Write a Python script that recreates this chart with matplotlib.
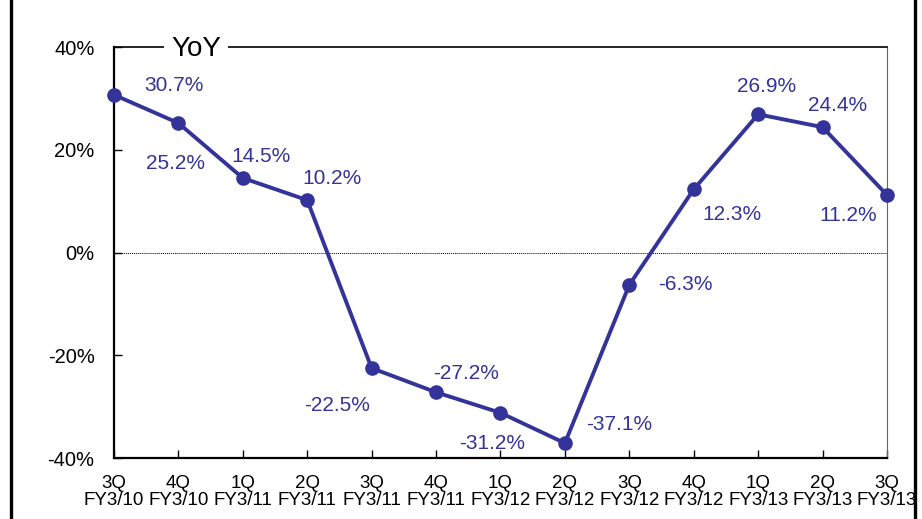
import matplotlib.pyplot as plt
from matplotlib.lines import Line2D

plt.rcParams['font.family'] = ['Liberation Sans', 'DejaVu Sans']

quarters = ['3Q\nFY3/10', '4Q\nFY3/10', '1Q\nFY3/11', '2Q\nFY3/11', '3Q\nFY3/11',
            '4Q\nFY3/11', '1Q\nFY3/12', '2Q\nFY3/12', '3Q\nFY3/12', '4Q\nFY3/12',
            '1Q\nFY3/13', '2Q\nFY3/13', '3Q\nFY3/13']
yoy = [30.7, 25.2, 14.5, 10.2, -22.5, -27.2, -31.2, -37.1, -6.3, 12.3, 26.9, 24.4, 11.2]
# label offsets in pixels (dx, dy) from each point
offsets = [(60, 9), (-3, -40), (18, 22), (25, 22), (-35, -37), (30, 19),
           (-8, -31), (54, 19), (56, 0), (38, -25), (8, 28), (15, 22), (-39, -21)]

color = '#333399'

fig = plt.figure(figsize=(9.22, 5.19), dpi=100)
ax = fig.add_axes([0.1236, 0.1175, 0.962 - 0.1236, 0.9094 - 0.1175])

x = list(range(len(yoy)))
ax.plot(x, yoy, color=color, lw=2.8, marker='o', markersize=9.5, zorder=3, clip_on=False)
ax.axhline(0, color='black', lw=0.7, ls=(0, (1, 1)))

for i, v in enumerate(yoy):
    ax.annotate(f'{v:.1f}%', (i, v), xytext=offsets[i], textcoords='offset pixels',
                ha='center', va='center', color=color, fontsize=15)

ax.set_xlim(0, 12)
ax.set_ylim(-40, 40)
ax.set_xticks(x)
ax.set_xticklabels(quarters, fontsize=13.5, linespacing=1.0)
ax.set_yticks([-40, -20, 0, 20, 40])
ax.set_yticklabels(['-40%', '-20%', '0%', '20%', '40%'], fontsize=14.5)
ax.tick_params(axis='x', direction='in', length=6, width=1, pad=12)
ax.tick_params(axis='y', direction='in', length=6, width=1, pad=14)

ax.spines['left'].set_linewidth(1.6)
ax.spines['bottom'].set_linewidth(1.6)
ax.spines['top'].set_linewidth(1.2)
ax.spines['right'].set_linewidth(0.8)
ax.spines['right'].set_color('#666666')

# title sitting on the top spine
fig.text(196 / 922, 1 - 49 / 519, 'YoY', fontsize=20, ha='center', va='center',
         bbox=dict(facecolor='white', edgecolor='none', pad=5))

# frame lines on left and right edges
fig.add_artist(Line2D([10.5 / 922, 10.5 / 922], [0, 1], color='black', lw=2.4))
fig.add_artist(Line2D([915 / 922, 915 / 922], [0, 1], color='black', lw=2.4))

fig.savefig('out.png', dpi=100)
